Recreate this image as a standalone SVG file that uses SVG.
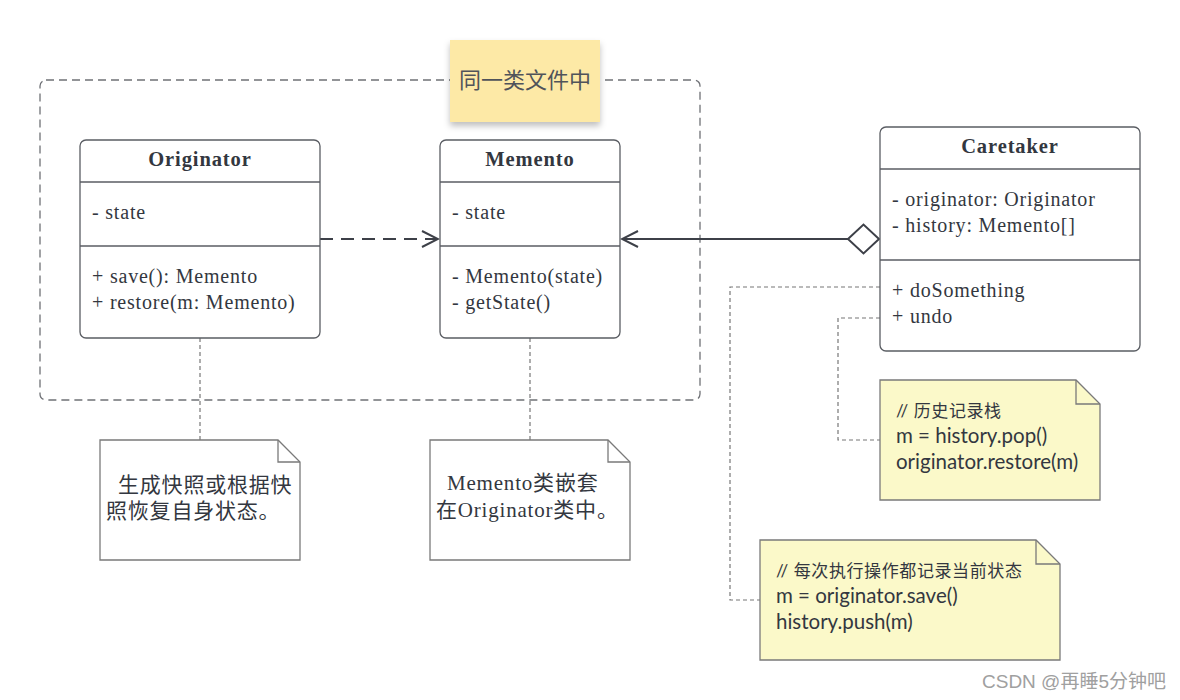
<svg xmlns="http://www.w3.org/2000/svg" width="1180" height="700" viewBox="0 0 1180 700">
<style>
.box{fill:#fff;stroke:#5a5d63;stroke-width:1.3}
.div{stroke:#5a5d63;stroke-width:1.3}
.t{font-family:"Liberation Serif",serif;font-size:20px;letter-spacing:0.8px;fill:#333740}
.tb{font-family:"Liberation Serif",serif;font-size:20.5px;letter-spacing:0.9px;font-weight:bold;fill:#333740}
.note{fill:#fff;stroke:#7a7a7a;stroke-width:1.3}
.ynote{fill:#fbf9c9;stroke:#7a7a7a;stroke-width:1.3}
.fold{fill:none;stroke:#7a7a7a;stroke-width:1.3}
.cn{font-family:"Liberation Serif","Noto Sans CJK SC",serif;font-size:21px;letter-spacing:0.8px;fill:#333740}
.code{font-family:Lato,"Noto Sans CJK SC",sans-serif;font-size:20.5px;fill:#333740}
.cmt{font-family:Lato,"Noto Sans CJK SC",sans-serif;font-size:17px;letter-spacing:0.6px;fill:#333740}
.dot{fill:none;stroke:#777;stroke-width:1.2;stroke-dasharray:4,3}
</style>
<defs>
<marker id="open" viewBox="0 0 20 20" refX="18" refY="10" markerWidth="20" markerHeight="20" markerUnits="userSpaceOnUse" orient="auto">
<path d="M2,2 L18,10 L2,18" fill="none" stroke="#3d4048" stroke-width="2"/>
</marker>
<filter id="sh" x="-20%" y="-20%" width="140%" height="150%">
<feDropShadow dx="0" dy="4" stdDeviation="3" flood-color="#000" flood-opacity="0.25"/>
</filter>
</defs>

<g id="container">
<rect x="40" y="80" width="660" height="320" rx="6" fill="none" stroke="#6f7176" stroke-width="1.3" stroke-dasharray="8,5"/>
</g>

<g id="sticky">
<rect x="450" y="40" width="150" height="82" fill="#fde9a6" filter="url(#sh)"/>
<text x="525" y="88" text-anchor="middle" font-family="'Noto Sans CJK SC',sans-serif" font-size="22" fill="#50535a">同一类文件中</text>
</g>

<g id="connectors">
<line x1="320" y1="239" x2="438" y2="239" stroke="#3d4048" stroke-width="2" stroke-dasharray="13,8" marker-end="url(#open)"/>
<line x1="848" y1="239" x2="622" y2="239" stroke="#3d4048" stroke-width="2" marker-end="url(#open)"/>
<path d="M848,239 L863.5,224.5 L879,239 L863.5,253.5 Z" fill="#fff" stroke="#3d4048" stroke-width="2"/>
<path class="dot" d="M200,338 V440"/>
<path class="dot" d="M530,338 V440"/>
<path class="dot" d="M880,318 H838 V440 H880"/>
<path class="dot" d="M880,287 H730 V600 H760"/>
</g>

<g id="originator">
<rect class="box" x="80" y="140" width="240" height="198" rx="6"/>
<line class="div" x1="80" y1="182" x2="320" y2="182"/>
<line class="div" x1="80" y1="246" x2="320" y2="246"/>
<text class="tb" x="200" y="166" text-anchor="middle">Originator</text>
<text class="t" x="92" y="219">- state</text>
<text class="t" x="92" y="283">+ save(): Memento</text>
<text class="t" x="92" y="309">+ restore(m: Memento)</text>
</g>

<g id="memento">
<rect class="box" x="440" y="140" width="180" height="198" rx="6"/>
<line class="div" x1="440" y1="182" x2="620" y2="182"/>
<line class="div" x1="440" y1="246" x2="620" y2="246"/>
<text class="tb" x="530" y="166" text-anchor="middle">Memento</text>
<text class="t" x="452" y="219">- state</text>
<text class="t" x="452" y="283">- Memento(state)</text>
<text class="t" x="452" y="309">- getState()</text>
</g>

<g id="caretaker">
<rect class="box" x="880" y="127" width="260" height="224" rx="6"/>
<line class="div" x1="880" y1="169" x2="1140" y2="169"/>
<line class="div" x1="880" y1="260" x2="1140" y2="260"/>
<text class="tb" x="1010" y="153" text-anchor="middle">Caretaker</text>
<text class="t" x="892" y="206">- originator: Originator</text>
<text class="t" x="892" y="232">- history: Memento[]</text>
<text class="t" x="892" y="297">+ doSomething</text>
<text class="t" x="892" y="323">+ undo</text>
</g>

<g id="note1">
<path class="note" d="M100,440 H278 L300,462 V560 H100 Z"/>
<path class="fold" d="M278,440 V462 H300"/>
<text class="cn" x="118" y="492">生成快照或根据快</text>
<text class="cn" x="106" y="518">照恢复自身状态。</text>
</g>

<g id="note2">
<path class="note" d="M430,440 H608 L630,462 V560 H430 Z"/>
<path class="fold" d="M608,440 V462 H630"/>
<text class="cn" x="447" y="490">Memento类嵌套</text>
<text class="cn" x="436" y="517">在Originator类中。</text>
</g>

<g id="note3">
<path class="ynote" d="M880,380 H1076 L1100,404 V500 H880 Z"/>
<path class="fold" d="M1076,380 V404 H1100"/>
<text class="cmt" x="896" y="417">// 历史记录栈</text>
<text class="code" x="896" y="443">m = history.pop()</text>
<text class="code" x="896" y="469">originator.restore(m)</text>
</g>

<g id="note4">
<path class="ynote" d="M760,540 H1036 L1060,564 V660 H760 Z"/>
<path class="fold" d="M1036,540 V564 H1060"/>
<text class="cmt" x="776" y="577">// 每次执行操作都记录当前状态</text>
<text class="code" x="776" y="603">m = originator.save()</text>
<text class="code" x="776" y="629">history.push(m)</text>
</g>

<text x="982" y="688" font-family="'Liberation Sans','Noto Sans CJK SC',sans-serif" font-size="19" fill="#a0a0a0">CSDN @再睡5分钟吧</text>
</svg>
